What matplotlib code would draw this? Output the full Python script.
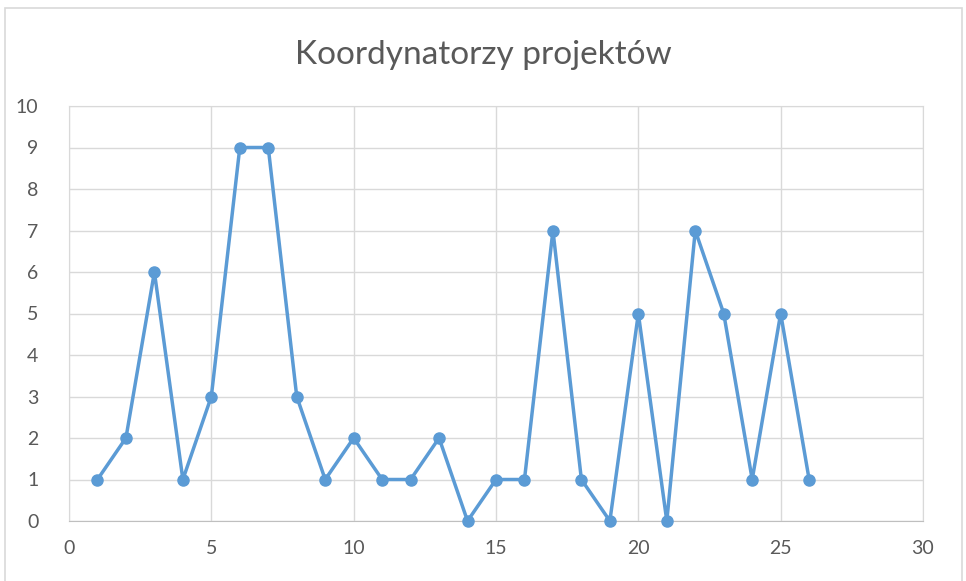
import matplotlib
matplotlib.use('Agg')
import matplotlib.pyplot as plt
from matplotlib.patches import Rectangle

x_vals = list(range(1, 27))
y_vals = [1, 2, 6, 1, 3, 9, 9, 3, 1, 2, 1, 1, 2, 0, 1, 1, 7, 1, 0, 5, 0, 7, 5, 1, 5, 1]
title = 'Koordynatorzy projektów'

W, H = 966, 581
fig = plt.figure(figsize=(W / 100, H / 100), dpi=100)
plt.rcParams['font.family'] = ['Lato', 'DejaVu Sans']

# outer chart border (cut off at the bottom in the original)
fig.patches.append(Rectangle((5 / W, -0.05), (962 - 5) / W, 1.05 - 8 / H,
                             transform=fig.transFigure, fill=False,
                             edgecolor='#D9D9D9', lw=1.2))

ax = fig.add_axes([69 / W, 1 - 521 / H, (923 - 69) / W, (521 - 106) / H])
ax.plot(x_vals, y_vals, color='#5B9BD5', lw=2.5, marker='o', markersize=8,
        zorder=3, clip_on=False)
ax.set_xlim(0, 30)
ax.set_ylim(0, 10)
ax.set_xticks(range(0, 31, 5))
ax.set_yticks(range(0, 11, 1))
ax.grid(color='#D9D9D9', lw=1)
ax.set_axisbelow(True)
for s in ax.spines.values():
    s.set_color('#D9D9D9')
ax.spines['bottom'].set_color('#BFBFBF')
ax.tick_params(length=0, colors='#595959', labelsize=14)
ax.tick_params(axis='x', pad=14)
ax.tick_params(axis='y', pad=22)
fig.text(0.5, 1 - 55 / H, title, ha='center', va='center',
         fontsize=24, color='#595959')

plt.savefig('out.png', dpi=100)
